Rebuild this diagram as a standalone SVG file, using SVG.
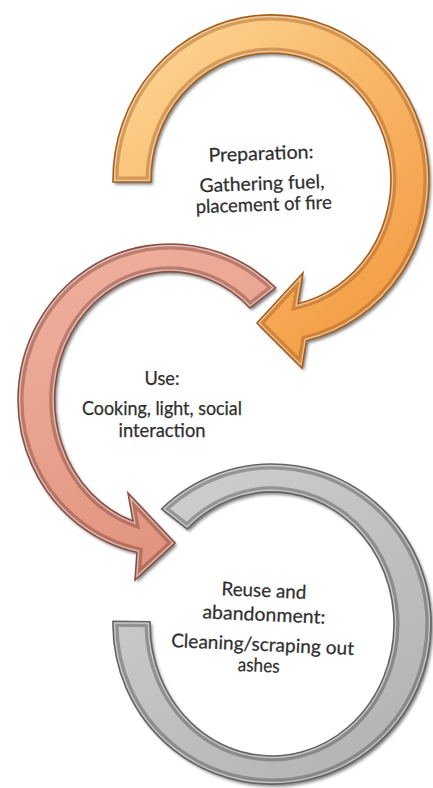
<svg xmlns="http://www.w3.org/2000/svg" width="433" height="788" viewBox="0 0 433 788">
<defs>
<style>
.lbl{font-family:Lato,"Open Sans","Liberation Sans",sans-serif;font-size:19px;fill:#2f2f2f;text-anchor:middle;stroke:#2f2f2f;stroke-width:0.25}
.rimd{fill:none;stroke-width:11;stroke-opacity:.38}
.riml{fill:none;stroke:#ffffff;stroke-width:4.5;stroke-opacity:.5}
</style>
<filter id="sh" x="-10%" y="-10%" width="120%" height="120%">
<feDropShadow dx="2" dy="2.5" stdDeviation="1.6" flood-color="#000" flood-opacity="0.5"/>
</filter>
<linearGradient id="gO" gradientUnits="userSpaceOnUse" x1="120" y1="20" x2="420" y2="360">
<stop offset="0" stop-color="#FCDA9C"/><stop offset="0.45" stop-color="#F8B767"/><stop offset="1" stop-color="#F2963D"/>
</linearGradient>
<linearGradient id="gR" gradientUnits="userSpaceOnUse" x1="60" y1="250" x2="200" y2="580">
<stop offset="0" stop-color="#EEB09E"/><stop offset="0.5" stop-color="#E8A18D"/><stop offset="1" stop-color="#DF917C"/>
</linearGradient>
<linearGradient id="gG" gradientUnits="userSpaceOnUse" x1="150" y1="470" x2="400" y2="780">
<stop offset="0" stop-color="#D0D0D0"/><stop offset="0.5" stop-color="#C0C0C0"/><stop offset="1" stop-color="#B2B2B2"/>
</linearGradient>
<path id="pO" d="M113,182 A158,165 0 1 1 306.5,340.7 L302,368 L257,323 L303,273 L298,303.7 A120,127 0 1 0 151,182 Z"/>
<path id="pR" d="M275.6,287.8 A152,156 0 1 0 137,552.3 L135,580 L175,543 L128,493 L133,521 A115,128 0 1 1 249.9,308 Z"/>
<path id="pG" d="M161.5,509 A159,160 0 1 1 113,621.2 L150,621.7 A122,132 0 1 0 187.2,529 Z"/>
<clipPath id="cO"><use href="#pO"/></clipPath>
<clipPath id="cR"><use href="#pR"/></clipPath>
<clipPath id="cG"><use href="#pG"/></clipPath>
</defs>
<rect width="433" height="788" fill="#ffffff"/>

<g id="preparation">
<g filter="url(#sh)"><use href="#pO" fill="url(#gO)"/></g>
<g clip-path="url(#cO)">
<use href="#pO" class="rimd" stroke="#9A4F10"/>
<use href="#pO" class="riml"/>
</g>
<use href="#pO" fill="none" stroke="#A95E18" stroke-width="1.6"/>
<g transform="rotate(-2 262 185)">
<text class="lbl" x="262" y="160" textLength="105" lengthAdjust="spacingAndGlyphs">Preparation:</text>
<text class="lbl" x="262" y="190" textLength="125" lengthAdjust="spacingAndGlyphs">Gathering fuel,</text>
<text class="lbl" x="263" y="211" textLength="136" lengthAdjust="spacingAndGlyphs">placement of fire</text>
</g>
</g>

<g id="use">
<g filter="url(#sh)"><use href="#pR" fill="url(#gR)"/></g>
<g clip-path="url(#cR)">
<use href="#pR" class="rimd" stroke="#6E3328"/>
<use href="#pR" class="riml"/>
</g>
<use href="#pR" fill="none" stroke="#8C4E43" stroke-width="1.6"/>
<text class="lbl" x="162" y="385" textLength="35" lengthAdjust="spacingAndGlyphs">Use:</text>
<text class="lbl" x="162" y="415" textLength="160" lengthAdjust="spacingAndGlyphs">Cooking, light, social</text>
<text class="lbl" x="162" y="437" textLength="87" lengthAdjust="spacingAndGlyphs">interaction</text>
</g>

<g id="reuse">
<g filter="url(#sh)"><use href="#pG" fill="url(#gG)"/></g>
<g clip-path="url(#cG)">
<use href="#pG" class="rimd" stroke="#3C3C3C"/>
<use href="#pG" class="riml"/>
</g>
<use href="#pG" fill="none" stroke="#636363" stroke-width="1.6"/>
<g transform="rotate(2.5 263 635)">
<text class="lbl" x="262" y="597" textLength="85" lengthAdjust="spacingAndGlyphs">Reuse and</text>
<text class="lbl" x="263" y="621" textLength="123" lengthAdjust="spacingAndGlyphs">abandonment:</text>
<text class="lbl" x="263" y="651" textLength="183" lengthAdjust="spacingAndGlyphs">Cleaning/scraping out</text>
<text class="lbl" x="260" y="672" textLength="42" lengthAdjust="spacingAndGlyphs">ashes</text>
</g>
</g>
</svg>
